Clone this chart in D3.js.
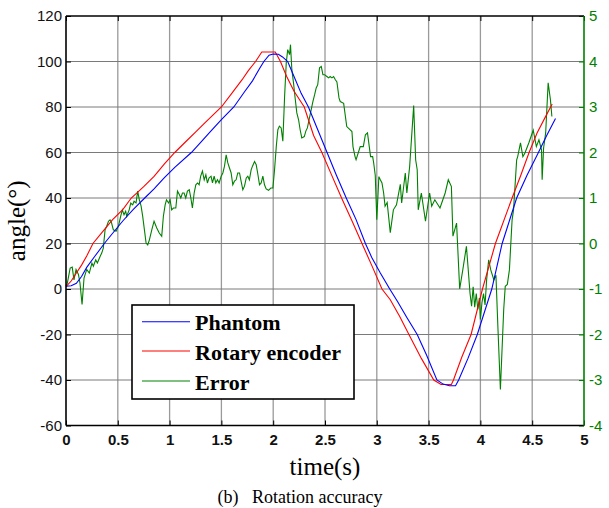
<!DOCTYPE html>
<html>
<head>
<meta charset="utf-8">
<script src="https://cdn.jsdelivr.net/npm/d3@7"></script>
<style>
  html, body { margin: 0; padding: 0; background: #fff; }
  svg { display: block; }
</style>
</head>
<body>
<div id="chart"></div>
<script>
// ---------------- data ----------------
const xTicks = [0, 0.5, 1, 1.5, 2, 2.5, 3, 3.5, 4, 4.5, 5];
const yLeftTicks = [-60, -40, -20, 0, 20, 40, 60, 80, 100, 120];
const yRightTicks = [-4, -3, -2, -1, 0, 1, 2, 3, 4, 5];

const seriesNames = ["Phantom", "Rotary encoder", "Error"];
const seriesColors = ["#0000ff", "#ff0000", "#008000"];

const phantomTime = [0, 0.05, 0.1, 0.15, 0.2, 0.28, 0.37, 0.45, 0.55, 0.65, 0.76, 0.85, 0.95, 1.05, 1.21, 1.3, 1.4, 1.5, 1.62, 1.72, 1.8, 1.87, 1.91, 1.96, 2.0, 2.05, 2.09, 2.14, 2.2, 2.27, 2.34, 2.43, 2.52, 2.61, 2.705, 2.8, 2.89, 2.95, 3.034, 3.125, 3.2, 3.29, 3.39, 3.48, 3.58, 3.64, 3.7, 3.76, 3.79, 3.88, 3.97, 4.04, 4.11, 4.21, 4.35, 4.45, 4.56, 4.64, 4.725];
const phantomAngle = [1.2, 1.4, 2.5, 5.5, 9.5, 14.5, 20, 24.5, 30, 35, 40, 44, 49, 53.5, 60, 64.5, 69.5, 74.5, 80, 86.5, 91.5, 97, 100, 102.8, 103.3, 103.2, 102, 100, 93.5, 86, 80, 70, 60, 50, 40, 30.5, 20, 14, 7, 0, -5.5, -12.5, -20, -29, -40, -41.8, -42.5, -42.5, -40, -30.5, -20, -10, 0, 20, 40, 50, 60, 67.5, 74.9];

const encoderTime = [0, 0.05, 0.1, 0.15, 0.2, 0.26, 0.35, 0.45, 0.55, 0.63, 0.75, 0.85, 0.95, 1.05, 1.15, 1.25, 1.35, 1.5, 1.6, 1.7, 1.76, 1.83, 1.89, 1.95, 2.02, 2.07, 2.13, 2.2, 2.3, 2.39, 2.47, 2.56, 2.66, 2.76, 2.857, 2.95, 3.05, 3.13, 3.22, 3.31, 3.43, 3.55, 3.62, 3.67, 3.72, 3.74, 3.82, 3.91, 4.02, 4.145, 4.306, 4.39, 4.47, 4.547, 4.62, 4.693];
const encoderAngle = [1, 3.5, 7, 10.5, 14.5, 20, 25, 30.5, 35, 40, 45, 49.5, 55, 60, 64.5, 69, 73.5, 80, 86, 92, 96, 100, 104.2, 104.2, 104.2, 100, 93.4, 87, 80, 67.5, 60, 50.5, 40, 30, 20, 10.5, 0, -4.7, -12, -20, -30.5, -40, -42, -42, -42, -40, -30, -20, 0, 20, 40, 50, 60, 68.6, 75, 81.3];

const errorTime = [0, 0.013, 0.04, 0.06, 0.077, 0.097, 0.12, 0.135, 0.155, 0.174, 0.2, 0.225, 0.25, 0.264, 0.287, 0.303, 0.33, 0.345, 0.36, 0.377, 0.393, 0.41, 0.425, 0.44, 0.457, 0.483, 0.506, 0.528, 0.544, 0.56, 0.576, 0.586, 0.61, 0.625, 0.644, 0.657, 0.676, 0.692, 0.708, 0.725, 0.74, 0.757, 0.773, 0.789, 0.805, 0.828, 0.85, 0.876, 0.9, 0.924, 0.94, 0.957, 0.97, 0.99, 1.005, 1.02, 1.037, 1.06, 1.076, 1.095, 1.108, 1.124, 1.14, 1.156, 1.172, 1.19, 1.205, 1.22, 1.237, 1.253, 1.27, 1.285, 1.3, 1.317, 1.334, 1.35, 1.365, 1.38, 1.4, 1.414, 1.43, 1.446, 1.462, 1.478, 1.498, 1.514, 1.53, 1.546, 1.562, 1.578, 1.594, 1.61, 1.626, 1.642, 1.658, 1.675, 1.69, 1.707, 1.723, 1.74, 1.755, 1.77, 1.787, 1.8, 1.82, 1.836, 1.85, 1.868, 1.884, 1.9, 1.916, 1.932, 1.955, 1.977, 1.997, 2.013, 2.03, 2.045, 2.06, 2.077, 2.093, 2.11, 2.126, 2.14, 2.158, 2.167, 2.18, 2.196, 2.21, 2.228, 2.245, 2.26, 2.276, 2.3, 2.315, 2.33, 2.35, 2.367, 2.383, 2.4, 2.415, 2.43, 2.447, 2.464, 2.48, 2.496, 2.518, 2.535, 2.55, 2.567, 2.583, 2.6, 2.615, 2.635, 2.647, 2.68, 2.71, 2.76, 2.77, 2.79, 2.8, 2.84, 2.87, 2.89, 2.91, 2.94, 2.96, 2.97, 2.985, 3.0, 3.02, 3.034, 3.05, 3.066, 3.08, 3.1, 3.13, 3.16, 3.19, 3.227, 3.24, 3.275, 3.29, 3.317, 3.356, 3.375, 3.39, 3.4, 3.43, 3.47, 3.51, 3.53, 3.56, 3.61, 3.66, 3.69, 3.72, 3.735, 3.77, 3.8, 3.83, 3.865, 3.88, 3.9, 3.915, 3.93, 3.945, 3.96, 3.975, 3.99, 4.0, 4.015, 4.03, 4.045, 4.06, 4.08, 4.1, 4.13, 4.15, 4.17, 4.193, 4.225, 4.24, 4.26, 4.28, 4.306, 4.32, 4.35, 4.36, 4.387, 4.41, 4.43, 4.467, 4.51, 4.54, 4.565, 4.59, 4.596, 4.61, 4.63, 4.654, 4.676, 4.69];
const errorValue = [-0.94, -0.87, -0.54, -0.52, -0.8, -0.57, -0.68, -0.87, -1.34, -0.76, -0.57, -0.65, -0.43, -0.5, -0.36, -0.43, -0.28, -0.21, -0.1, 0.3, 0.38, 0.49, 0.52, 0.45, 0.3, 0.27, 0.38, 0.6, 0.74, 0.63, 0.71, 0.6, 0.74, 0.89, 0.85, 0.93, 0.89, 1.15, 0.96, 0.82, 0.6, 0.3, 0.01, -0.03, 0.08, 0.3, 0.49, 0.34, 0.23, 0.16, 0.6, 0.85, 0.96, 0.89, 0.96, 0.74, 0.78, 0.78, 1.15, 1.07, 1.0, 1.11, 1.11, 1.0, 1.15, 1.18, 1.0, 0.78, 1.11, 1.29, 1.33, 1.29, 1.48, 1.59, 1.4, 1.51, 1.33, 1.44, 1.48, 1.33, 1.48, 1.33, 1.4, 1.33, 1.48, 1.55, 1.7, 1.95, 1.77, 1.66, 1.55, 1.29, 1.37, 1.4, 1.55, 1.55, 1.37, 1.18, 1.26, 1.44, 1.48, 1.4, 1.62, 1.7, 1.8, 1.73, 1.55, 1.29, 1.33, 1.48, 1.29, 1.2, 1.17, 1.22, 1.22, 1.62, 2.14, 2.5, 2.58, 2.54, 2.25, 3.23, 3.97, 4.26, 4.15, 4.37, 3.82, 3.53, 3.23, 2.87, 2.72, 2.5, 2.32, 2.35, 2.47, 2.54, 2.76, 2.94, 3.12, 3.27, 3.42, 3.49, 3.86, 3.89, 3.71, 3.71, 3.67, 3.64, 3.67, 3.64, 3.67, 3.6, 3.55, 3.2, 3.12, 3.08, 2.57, 2.46, 2.13, 1.91, 1.84, 2.13, 2.13, 2.39, 2.43, 1.91, 1.91, 1.77, 1.5, 0.52, 1.47, 1.4, 1.33, 1.11, 0.82, 0.9, 0.24, 0.74, 0.85, 1.3, 0.89, 1.55, 1.11, 1.69, 3.03, 1.84, 1.62, 0.74, 1.11, 0.49, 1.11, 0.82, 0.96, 0.78, 1.11, 1.4, 1.25, 0.16, 0.45, -1.0, -0.58, -0.06, -0.5, -1.1, -1.38, -0.95, -1.4, -1.1, -1.45, -1.2, -1.67, -1.3, -1.1, -1.35, -0.8, -0.36, -0.58, -0.8, -0.7, -1.9, -3.21, -1.45, -0.94, -0.9, -0.58, 0.52, 0.74, 1.84, 1.91, 2.21, 1.91, 1.99, 2.21, 2.49, 2.13, 2.28, 2.06, 1.4, 2.1, 2.43, 3.53, 3.16, 2.79];

// ---------------- layout ----------------
const W = 609, H = 508;
const plot = { left: 66, right: 584, top: 16, bottom: 425.5 };

const svg = d3.select("#chart").append("svg")
  .attr("width", W).attr("height", H)
  .style("background", "#fff");

const x = d3.scaleLinear().domain([0, 5]).range([plot.left, plot.right]);
const yL = d3.scaleLinear().domain([-60, 120]).range([plot.bottom, plot.top]);
const yR = d3.scaleLinear().domain([-4, 5]).range([plot.bottom, plot.top]);

const plainFmt = d => String(d);   // hyphen-minus, as in the reference

// grid
const grid = svg.append("g").attr("class", "grid");
grid.selectAll("line.v").data(xTicks.slice(1, -1)).join("line")
  .attr("class", "v")
  .attr("x1", d => x(d)).attr("x2", d => x(d))
  .attr("y1", plot.top).attr("y2", plot.bottom)
  .attr("stroke", "#9a9a9a").attr("stroke-width", 1.3);
grid.selectAll("line.h").data(yLeftTicks.slice(1, -1)).join("line")
  .attr("class", "h")
  .attr("x1", plot.left).attr("x2", plot.right)
  .attr("y1", d => yL(d)).attr("y2", d => yL(d))
  .attr("stroke", "#7a7a7a").attr("stroke-width", 1);

// lines
const lineL = d3.line().x(d => x(d[0])).y(d => yL(d[1]));
const lineR = d3.line().x(d => x(d[0])).y(d => yR(d[1]));

svg.append("path")
  .datum(errorTime.map((t, i) => [t, errorValue[i]]))
  .attr("d", lineR).attr("fill", "none")
  .attr("stroke", seriesColors[2]).attr("stroke-width", 1.1);
svg.append("path")
  .datum(encoderTime.map((t, i) => [t, encoderAngle[i]]))
  .attr("d", lineL).attr("fill", "none")
  .attr("stroke", seriesColors[1]).attr("stroke-width", 1.1);
svg.append("path")
  .datum(phantomTime.map((t, i) => [t, phantomAngle[i]]))
  .attr("d", lineL).attr("fill", "none")
  .attr("stroke", seriesColors[0]).attr("stroke-width", 1.1);

// axes
const tickFont = "'Liberation Sans', Arial, sans-serif";

const axL = svg.append("g").attr("transform", `translate(${plot.left},0)`)
  .call(d3.axisLeft(yL).tickValues(yLeftTicks).tickSizeInner(-5).tickSizeOuter(0).tickPadding(4)
    .tickFormat(plainFmt));
axL.selectAll("text").attr("font-family", tickFont).attr("font-size", 15).attr("fill", "#111");

const axB = svg.append("g").attr("transform", `translate(0,${plot.bottom})`)
  .call(d3.axisBottom(x).tickValues(xTicks).tickSizeInner(-5).tickSizeOuter(0).tickPadding(8.5)
    .tickFormat(plainFmt));
axB.selectAll("text").attr("font-family", tickFont).attr("font-size", 15)
  .attr("font-weight", "bold").attr("fill", "#111");

const axT = svg.append("g").attr("transform", `translate(0,${plot.top})`)
  .call(d3.axisTop(x).tickValues(xTicks).tickSizeInner(-5).tickSizeOuter(0).tickFormat(""));

const axR = svg.append("g").attr("transform", `translate(${plot.right},0)`)
  .call(d3.axisRight(yR).tickValues(yRightTicks).tickSizeInner(-5).tickSizeOuter(0).tickPadding(5)
    .tickFormat(plainFmt));
axR.selectAll("text").attr("font-family", tickFont).attr("font-size", 15).attr("fill", "#008000");
axR.selectAll("line").attr("stroke", "#008000");

[axL, axB, axT].forEach(a => {
  a.select(".domain").remove();
  a.selectAll("line").attr("stroke", "#000");
});
axR.select(".domain").remove();

// frame
svg.append("line").attr("x1", plot.left).attr("x2", plot.right).attr("y1", plot.top).attr("y2", plot.top)
  .attr("stroke", "#000").attr("stroke-width", 1.6);
svg.append("line").attr("x1", plot.left).attr("x2", plot.right).attr("y1", plot.bottom).attr("y2", plot.bottom)
  .attr("stroke", "#000").attr("stroke-width", 1.6);
svg.append("line").attr("x1", plot.left).attr("x2", plot.left).attr("y1", plot.top).attr("y2", plot.bottom)
  .attr("stroke", "#000").attr("stroke-width", 1.6);
svg.append("line").attr("x1", plot.right).attr("x2", plot.right).attr("y1", plot.top).attr("y2", plot.bottom)
  .attr("stroke", "#008000").attr("stroke-width", 1.6);

// axis titles
const serif = "'Liberation Serif', 'Times New Roman', serif";
svg.append("text")
  .attr("transform", `translate(25,${(plot.top + plot.bottom) / 2}) rotate(-90)`)
  .attr("text-anchor", "middle")
  .attr("font-family", serif).attr("font-size", 25).attr("fill", "#000")
  .text("angle(°)");
svg.append("text")
  .attr("x", (plot.left + plot.right) / 2).attr("y", 475)
  .attr("text-anchor", "middle")
  .attr("font-family", serif).attr("font-size", 25).attr("fill", "#000")
  .text("time(s)");
svg.append("text")
  .attr("x", 300).attr("y", 503)
  .attr("text-anchor", "middle")
  .attr("font-family", serif).attr("font-size", 18).attr("fill", "#000")
  .attr("xml:space", "preserve")
  .text("(b)   Rotation accuracy");

// legend
const legend = { x: 132, y: 305, w: 222, h: 94 };
const lg = svg.append("g");
lg.append("rect")
  .attr("x", legend.x).attr("y", legend.y).attr("width", legend.w).attr("height", legend.h)
  .attr("fill", "#fff").attr("stroke", "#000").attr("stroke-width", 1.6);
const rowY = [321.7, 351, 381];
seriesNames.forEach((name, i) => {
  lg.append("line")
    .attr("x1", 142).attr("x2", 190).attr("y1", rowY[i]).attr("y2", rowY[i])
    .attr("stroke", seriesColors[i]).attr("stroke-width", 1.1);
  lg.append("text")
    .attr("x", 195).attr("y", rowY[i] + 8.5)
    .attr("font-family", serif).attr("font-weight", "bold").attr("font-size", 22).attr("fill", "#000")
    .text(name);
});
</script>
</body>
</html>
